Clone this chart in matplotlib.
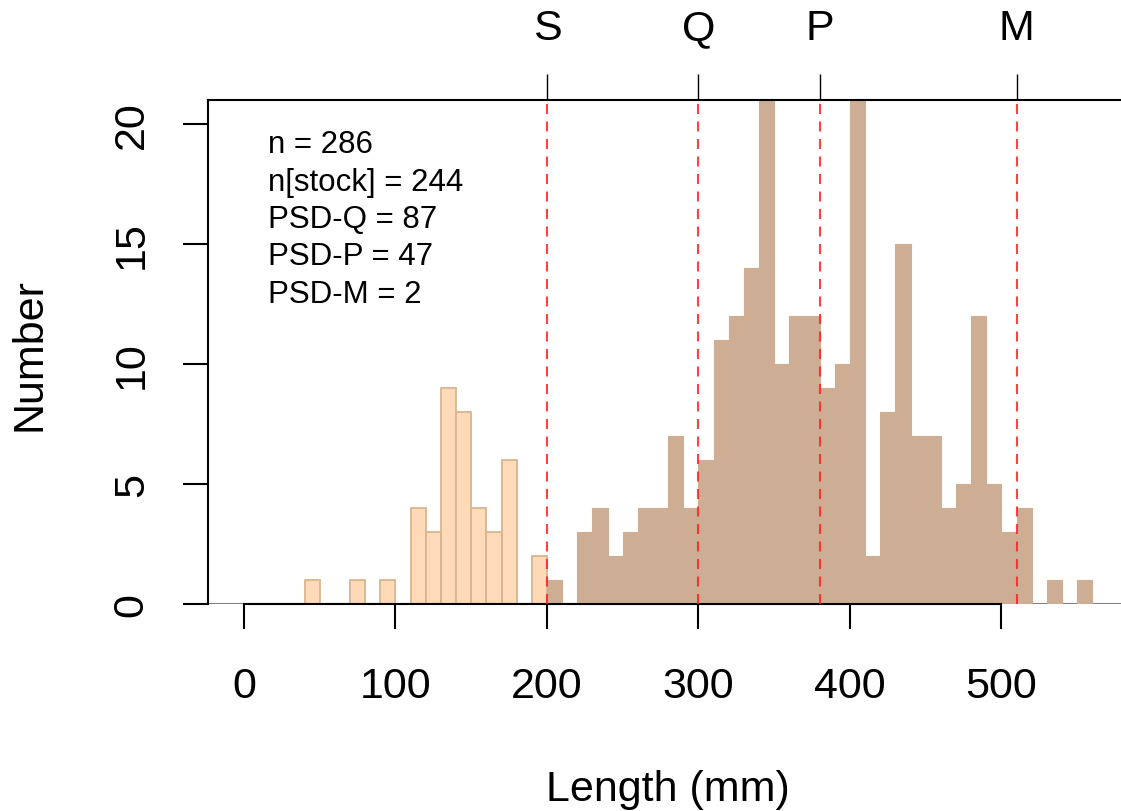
import matplotlib
matplotlib.use("Agg")
import matplotlib.pyplot as plt
import numpy as np

plt.rcParams['font.family'] = ['Liberation Sans', 'DejaVu Sans']

# Data: 10-mm length bins (lower edges) and counts
bin_lower = [40, 50, 60, 70, 80, 90, 100, 110, 120, 130, 140, 150, 160, 170, 180, 190,
             200, 210, 220, 230, 240, 250, 260, 270, 280, 290,
             300, 310, 320, 330, 340, 350, 360, 370,
             380, 390, 400, 410, 420, 430, 440, 450, 460, 470, 480, 490, 500,
             510, 520, 530, 540, 550]
counts = [1, 0, 0, 1, 0, 1, 0, 4, 3, 9, 8, 4, 3, 6, 0, 2,
          1, 0, 3, 4, 2, 3, 4, 4, 7, 4,
          6, 11, 12, 14, 21, 10, 12, 12,
          9, 10, 21, 2, 8, 15, 7, 7, 4, 5, 12, 5, 3,
          4, 0, 1, 0, 1]
bin_width = 10
stock_min = 200

psd_breaks = [200, 300, 380, 510]
psd_labels = ['S', 'Q', 'P', 'M']

info_lines = ['n = 286', 'n[stock] = 244', 'PSD-Q = 87', 'PSD-P = 47', 'PSD-M = 2']

x_ticks = [0, 100, 200, 300, 400, 500]
y_ticks = [0, 5, 10, 15, 20]

W, H = 1121, 812
fig = plt.figure(figsize=(W / 100, H / 100), dpi=100)

# axes in pixel geometry
left_px, right_px, top_px, bottom_px = 208, 1153, 101, 605
ax = fig.add_axes([left_px / W, 1 - bottom_px / H, (right_px - left_px) / W, (bottom_px - top_px) / H])
ax.set_xlim(-23.76, -23.76 + (right_px - left_px) / 1.515)
ax.set_ylim(0, 21)

bl = np.array(bin_lower)
cn = np.array(counts)
sub = bl < stock_min
ax.bar(bl[sub], cn[sub], width=bin_width, align='edge', color='#FFDAB8',
       edgecolor='#D9B48F', linewidth=1.3, zorder=2)
ax.bar(bl[~sub], cn[~sub], width=bin_width, align='edge', color='#CDAE94',
       edgecolor='#CDAE94', linewidth=0.8, zorder=2)

for b in psd_breaks:
    ax.axvline(b, color='#FF2020', alpha=0.85, lw=1.5, linestyle=(0, (4.8, 3.6)), zorder=3)

ax.axhline(0, color='#808080', lw=1.5, zorder=1)

# spines
for s in ['left', 'top', 'right']:
    ax.spines[s].set_color('black')
    ax.spines[s].set_linewidth(1.5)
ax.spines['bottom'].set_color('black')
ax.spines['bottom'].set_linewidth(1.5)
ax.spines['bottom'].set_bounds(0, 500)

FS = 31
ax.set_xticks(x_ticks)
ax.set_xticklabels([str(t) for t in x_ticks])
ax.set_yticks(y_ticks)
ax.set_yticklabels([str(t) for t in y_ticks], rotation=90, va='center')
ax.tick_params(axis='x', length=18, width=1.5, pad=26.5, labelsize=FS, direction='out')
ax.tick_params(axis='y', length=18, width=1.5, pad=22.5, labelsize=FS, direction='out')

sec = ax.secondary_xaxis('top')
sec.set_xticks(psd_breaks)
sec.set_xticklabels(psd_labels)
sec.tick_params(length=18.5, width=1.0, pad=19, labelsize=FS, direction='out')
sec.spines['top'].set_visible(False)

fig.text(668 / W, 1 - 790 / H, 'Length (mm)', ha='center', va='center', fontsize=FS)
fig.text(29 / W, 1 - 355 / H, 'Number', ha='center', va='center', rotation=90, fontsize=FS)

baselines = [153, 190.5, 228, 265.5, 303]
for line, yb in zip(info_lines, baselines):
    fig.text(268 / W, 1 - yb / H, line, ha='left', va='baseline', fontsize=22.5)

fig.savefig('out.png', dpi=100)
